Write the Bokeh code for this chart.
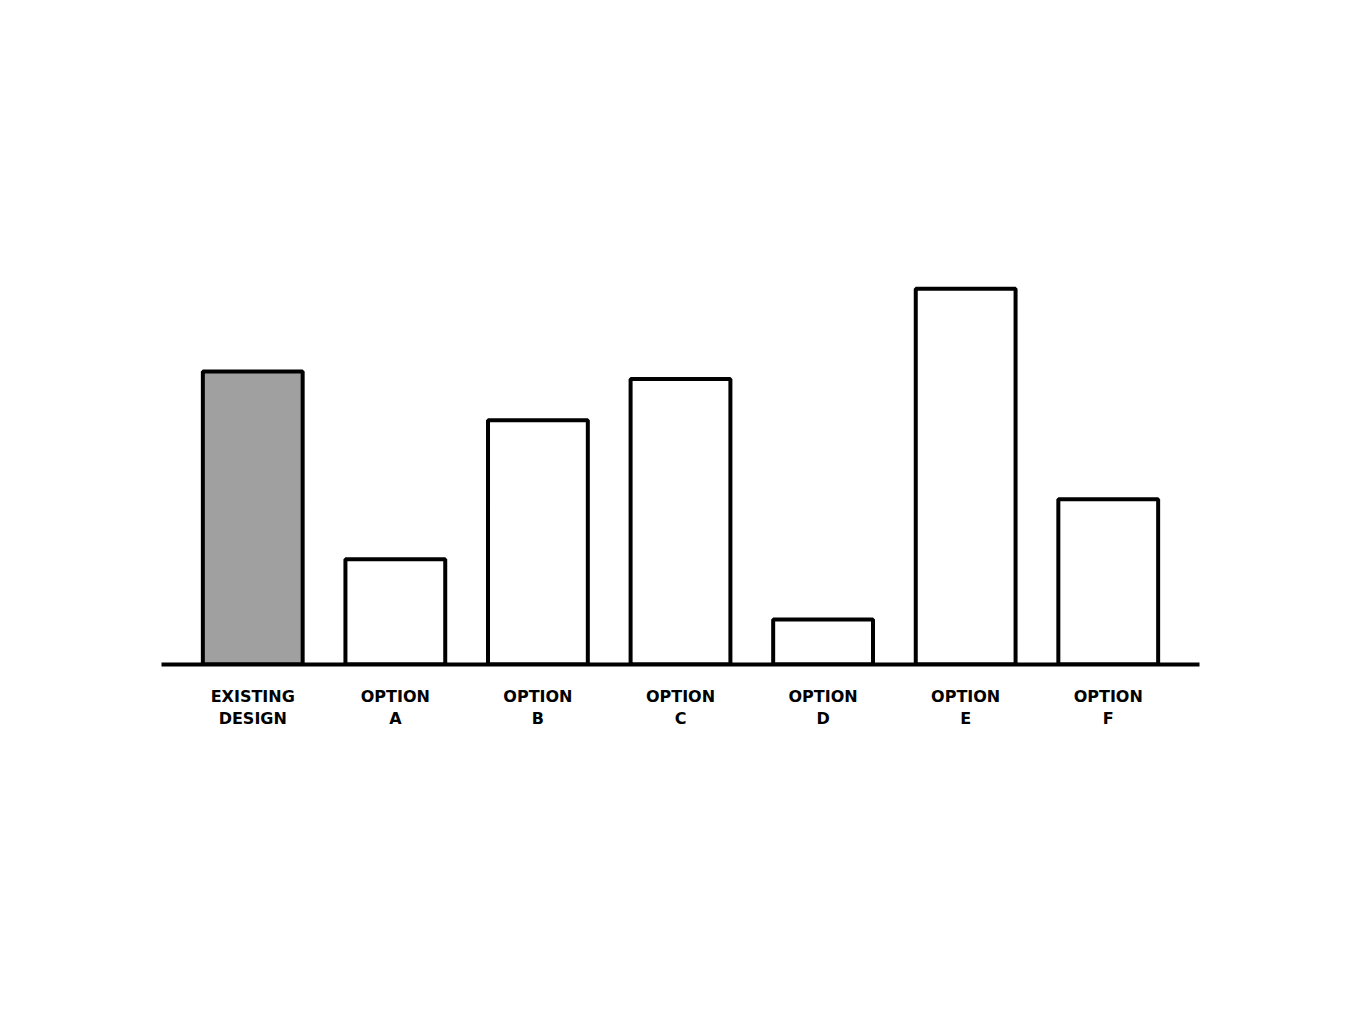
from bokeh.plotting import figure
from bokeh.models import ColumnDataSource, FactorRange, Range1d
from bokeh.embed import file_html
from bokeh.resources import INLINE

categories = ["EXISTING\nDESIGN", "OPTION\nA", "OPTION\nB", "OPTION\nC", "OPTION\nD", "OPTION\nE", "OPTION\nF"]
values = [78, 28, 65, 76, 12, 100, 44]
fills = ["#a0a0a0", "white", "white", "white", "white", "white", "white"]

src = ColumnDataSource(dict(cat=categories, val=values, fill=fills))

p = figure(width=1349, height=1000, output_backend="svg", toolbar_location=None,
           x_range=FactorRange(*categories, range_padding=0.04),
           y_range=Range1d(0, 148),
           min_border_left=161, min_border_right=150, min_border_top=108, min_border_bottom=336)

p.vbar(x="cat", top="val", width=0.7, source=src, fill_color="fill",
       line_color="black", line_width=4)

p.yaxis.visible = False
p.xgrid.visible = False
p.ygrid.visible = False
p.outline_line_color = None
p.xaxis.axis_line_color = "black"
p.xaxis.axis_line_width = 4
p.xaxis.major_tick_line_color = None
p.xaxis.minor_tick_line_color = None
p.xaxis.major_label_text_font = "DejaVu Sans"
p.xaxis.major_label_text_font_size = "16px"
p.xaxis.major_label_text_font_style = "bold"
p.xaxis.major_label_text_color = "black"
p.xaxis.major_label_standoff = 16

open("out.html", "w").write(file_html(p, INLINE))
